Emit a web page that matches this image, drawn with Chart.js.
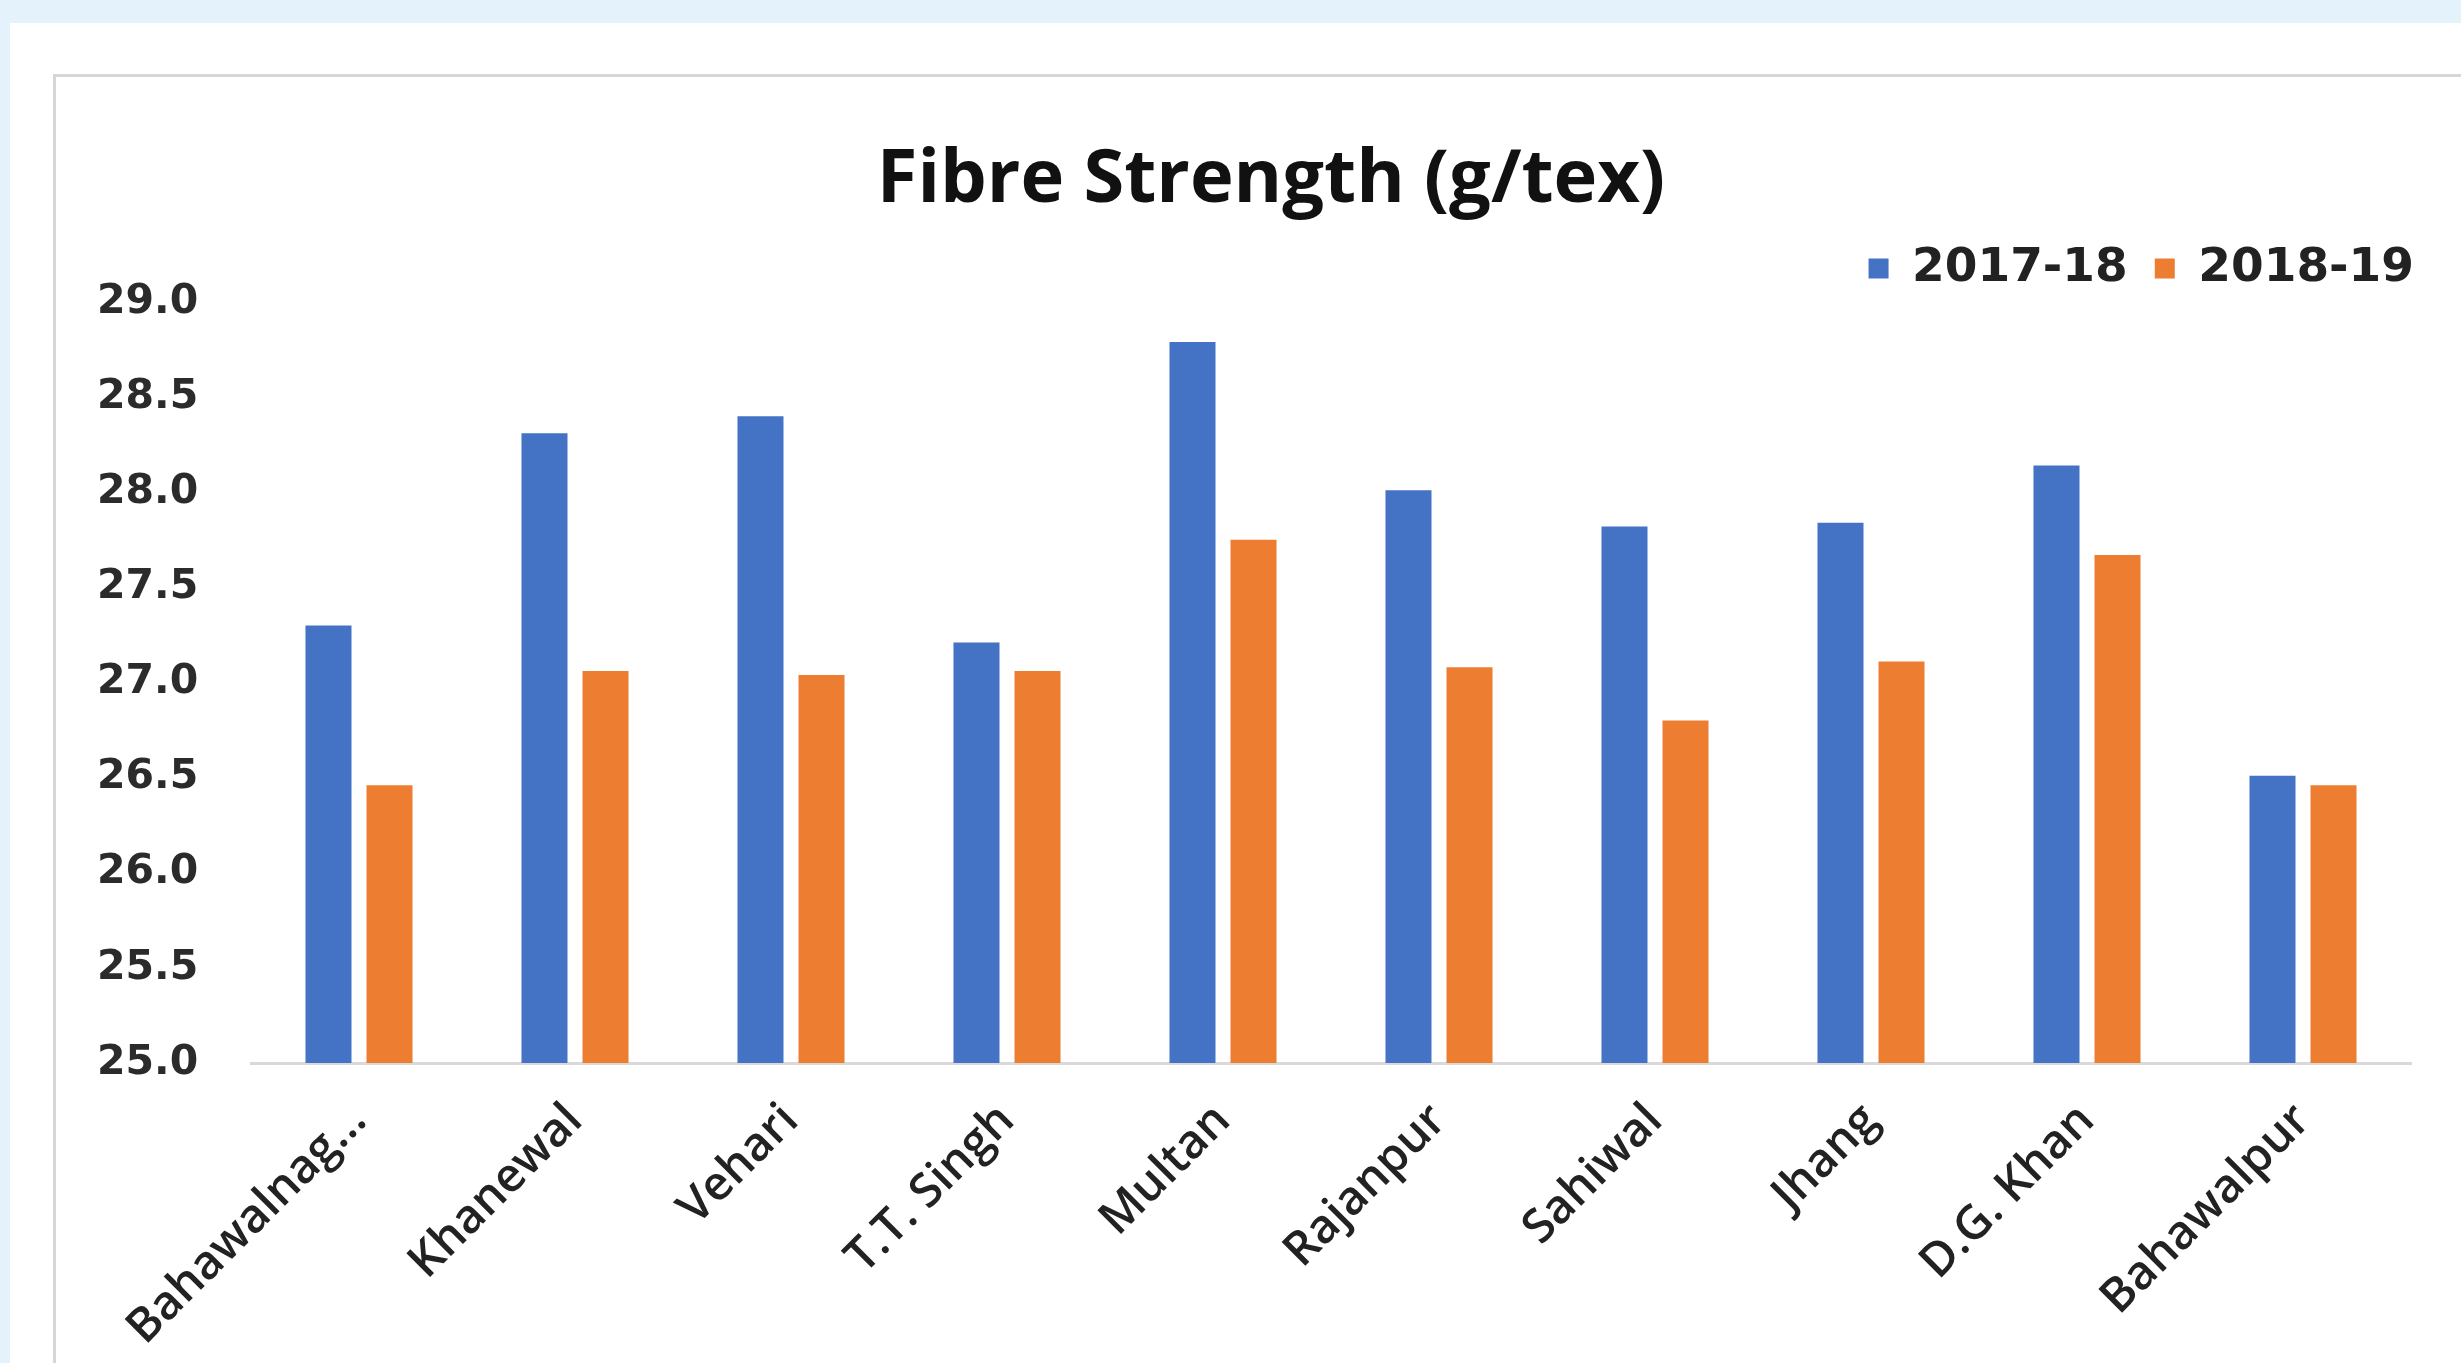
<!DOCTYPE html>
<html>
<head>
<meta charset="utf-8">
<title>Fibre Strength (g/tex)</title>
<script src="https://cdn.jsdelivr.net/npm/chart.js@4.4.1/dist/chart.umd.min.js"></script>
<style>
  html, body { margin: 0; padding: 0; }
  body {
    width: 2461px; height: 1363px; overflow: hidden; position: relative;
    background: #e4f3fb;
  }
  #sheet {
    position: absolute; left: 10px; top: 23px; right: 0; bottom: 0;
    background: #ffffff;
  }
  #frame {
    position: absolute; left: 53px; top: 74px; width: 2500px; height: 1400px;
    border: 3px solid #d6d6d6; background: #ffffff; box-sizing: border-box;
  }
  #wrap {
    position: absolute; left: 56px; top: 77px; width: 2405px; height: 1286px;
  }
</style>
</head>
<body>
<div id="sheet"></div>
<div id="frame"></div>
<div id="wrap"><canvas id="chart"></canvas></div>
<script>
// Districts along the x axis
const districts = ['Bahawalnag...', 'Khanewal', 'Vehari', 'T.T. Singh', 'Multan',
                   'Rajanpur', 'Sahiwal', 'Jhang', 'D.G. Khan', 'Bahawalpur'];
// Season labels
const seasons = ['2017-18', '2018-19'];
// Fibre strength in g/tex per district
const strength2017 = [27.30, 28.31, 28.40, 27.21, 28.79, 28.01, 27.82, 27.84, 28.14, 26.51];
const strength2018 = [26.46, 27.06, 27.04, 27.06, 27.75, 27.08, 26.80, 27.11, 27.67, 26.46];
// Value axis range and step
const yMin = 25.0, yMax = 29.0, yStep = 0.5;

const BLUE = '#4472c4';
const ORANGE = '#ed7d31';

new Chart(document.getElementById('chart'), {
  type: 'bar',
  data: {
    labels: districts,
    datasets: [
      { label: seasons[0], data: strength2017, backgroundColor: BLUE, borderWidth: 0,
        categoryPercentage: 0.565, barPercentage: 0.754 },
      { label: seasons[1], data: strength2018, backgroundColor: ORANGE, borderWidth: 0,
        categoryPercentage: 0.565, barPercentage: 0.754 }
    ]
  },
  options: {
    responsive: true,
    maintainAspectRatio: false,
    animation: false,
    devicePixelRatio: 1,
    layout: { padding: { left: 45, right: 20, top: 20, bottom: 0 } },
    plugins: {
      title: {
        display: true,
        text: 'Fibre Strength (g/tex)',
        color: '#111111',
        font: { family: "'Open Sans', sans-serif", weight: 'bold', size: 74, lineHeight: 1.0 },
        padding: { top: 47, bottom: 0 }
      },
      legend: {
        display: true,
        position: 'top',
        align: 'end',
        labels: {
          boxWidth: 20,
          boxHeight: 20,
          padding: 27,
          color: '#222222',
          font: { family: "'DejaVu Sans', sans-serif", weight: 'bold', size: 47 }
        }
      },
      tooltip: { enabled: false }
    },
    scales: {
      x: {
        grid: { display: false, drawTicks: false },
        border: { display: true, color: '#d9d9d9', width: 3 },
        ticks: {
          color: '#222222',
          font: { family: "'Open Sans', sans-serif", weight: '600', size: 47 },
          maxRotation: 45,
          minRotation: 45,
          autoSkip: false,
          padding: 30
        },
        afterFit: (scale) => { scale.height = 300; }
      },
      y: {
        min: yMin,
        max: yMax,
        grid: { display: false, drawTicks: false },
        border: { display: false },
        ticks: {
          stepSize: yStep,
          color: '#2b2b2b',
          mirror: true,
          padding: -154,
          font: { family: "'DejaVu Sans', sans-serif", weight: 'bold', size: 41 },
          callback: (v) => Number(v).toFixed(1)
        },
        afterFit: (scale) => { scale.width = 150; }
      },
      // empty margin on the right of the plot, keeps the legend flush with the frame edge
      yMargin: {
        position: 'right',
        display: true,
        grid: { display: false, drawTicks: false },
        border: { display: false },
        ticks: { display: false },
        afterFit: (scale) => { scale.width = 30; }
      }
    }
  }
});
</script>
</body>
</html>
